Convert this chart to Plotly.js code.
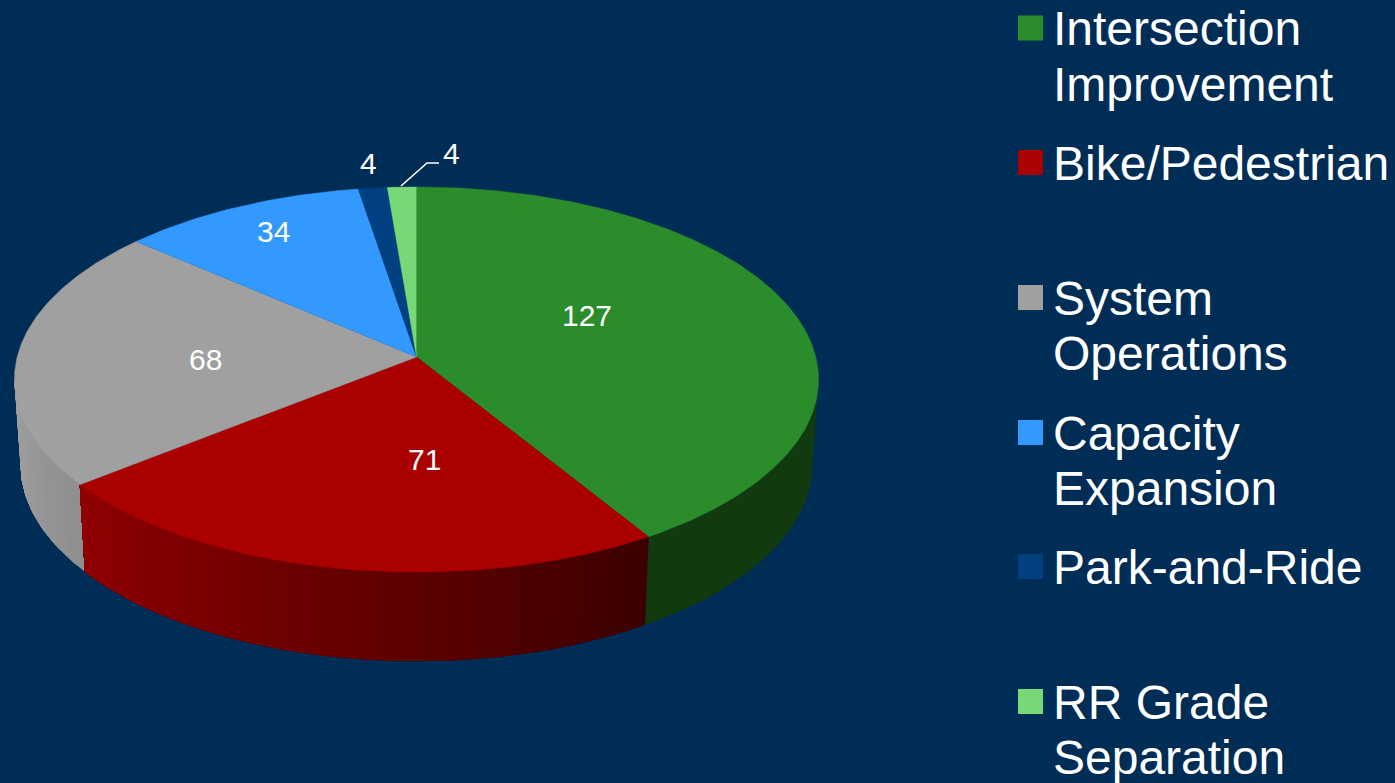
<!DOCTYPE html>
<html>
<head>
<meta charset="utf-8">
<script src="https://cdn.plot.ly/plotly-3.0.1.min.js"></script>
<style>html,body{margin:0;padding:0;background:#002d56;overflow:hidden}#chart{width:1395px;height:783px}</style>
</head>
<body>
<div id="chart"></div>
<script>
const categories = ["Intersection Improvement", "Bike/Pedestrian", "System Operations", "Capacity Expansion", "Park-and-Ride", "RR Grade Separation"];
const values = [127, 71, 68, 34, 4, 4];
const colors = ["#2a8c2a", "#aa0000", "#a0a0a0", "#3399ff", "#004080", "#77d877"];
const legendLines = [["Intersection", "Improvement"], ["Bike/Pedestrian"], ["System", "Operations"], ["Capacity", "Expansion"], ["Park-and-Ride"], ["RR Grade", "Separation"]];
const legendRowY = [28, 162.5, 297.5, 432.5, 566.5, 701.5];
const labelPos = [[586.5, 315.5], [424.5, 459.5], [205.5, 359.5], [273.5, 231.5], [368.5, 163.5], [451.5, 153.5]];
const wallShades = {0: ["#113a0f", "#113a0f"], 1: ["#900000", "#3c0000"], 2: ["#8e8e8e", "#a2a2a2"]};

// Perspective view of the disc
const CX = 416.5, CY = 357, A = 399.3, B = 189.9, K = 0.1169;
function topRim(t) {
  const u = Math.sin(t), v = Math.cos(t), w = 1 + K * v;
  return [CX + A * u / w, CY - B * v / w];
}
function bottomRim(t) {
  const p = topRim(t);
  return [CX + (p[0] - CX) * 0.985, p[1] + 87 + (p[1] - 485) * 0.023];
}
const total = values.reduce((a, b) => a + b, 0);
const edges = [0];
values.forEach(v => edges.push(edges[edges.length - 1] + v / total * 2 * Math.PI));

function poly(points, color, lw) {
  return {
    type: "scatter", mode: "lines", fill: "toself", fillcolor: color,
    x: points.map(p => p[0]), y: points.map(p => p[1]),
    line: {color: color, width: lw}, hoverinfo: "skip", showlegend: false
  };
}
function mix(a, b, f) {
  const p = s => [1, 3, 5].map(i => parseInt(s.substr(i, 2), 16));
  const ca = p(a), cb = p(b);
  return "rgb(" + ca.map((c, i) => Math.round(c + (cb[i] - c) * f)).join(",") + ")";
}
function arc(fn, a, b, n) {
  const out = [];
  for (let i = 0; i <= n; i++) out.push(fn(a + (b - a) * i / n));
  return out;
}

const traces = [];
// Side wall between the silhouette tangents. Each strip paints from its start to the
// wall's end and the next one paints over it, so no seams show between the bands.
const TANGENT = Math.acos(-K);
const visible = [[0, TANGENT, edges[1]], [2, edges[2], 2 * Math.PI - TANGENT], [1, edges[1], edges[2]]];
visible.forEach(([idx, a, b]) => {
  const [c0, c1] = wallShades[idx];
  const strips = c0 === c1 ? 1 : (idx === 1 ? 40 : 14);
  for (let s = 0; s < strips; s++) {
    const s0 = a + (b - a) * s / strips;
    const n = Math.max(4, Math.round((b - s0) * 60));
    // angle runs clockwise, so on the lower rim it moves right-to-left on screen
    const f = idx === 1 ? 1 - (s + 0.5) / strips : (s + 0.5) / strips;
    const pts = arc(topRim, s0, b, n).concat(arc(bottomRim, b, s0, n));
    traces.push(poly(pts, mix(c0, c1, f), 0));
  }
});
// Top face wedges
values.forEach((v, i) => {
  const n = Math.max(8, Math.round(v * 2));
  const pts = [[CX, CY]].concat(arc(topRim, edges[i], edges[i + 1], n));
  traces.push(poly(pts, colors[i], 0.5));
});
// Leader line for the last label
traces.push({
  type: "scatter", mode: "lines", x: [401, 427, 439], y: [186, 163, 163],
  line: {color: "#ffffff", width: 1.6}, hoverinfo: "skip", showlegend: false
});
// Legend swatches
categories.forEach((c, i) => {
  traces.push({
    type: "scatter", mode: "markers", x: [1030.5], y: [legendRowY[i]], name: c,
    marker: {symbol: "square", size: 25, color: colors[i], line: {width: 0}},
    hoverinfo: "skip", showlegend: false
  });
});

const FONT = "Liberation Sans, Arial, sans-serif";
const annotations = [];
values.forEach((v, i) => annotations.push({
  x: labelPos[i][0], y: labelPos[i][1], xref: "x", yref: "y", text: String(v), showarrow: false,
  xanchor: "center", yanchor: "middle", font: {family: FONT, size: 30, color: "#ffffff"}
}));
legendLines.forEach((lines, i) => lines.forEach((line, j) => annotations.push({
  x: 1052, y: legendRowY[i] + 0.5 + j * 55.5, xref: "x", yref: "y", text: line, showarrow: false,
  xanchor: "left", yanchor: "middle", xshift: -1, font: {family: FONT, size: 48, color: "#ffffff"}
})));

Plotly.newPlot("chart", traces, {
  width: 1395, height: 783, margin: {l: 0, r: 0, t: 0, b: 0, pad: 0},
  paper_bgcolor: "#002d56", plot_bgcolor: "#002d56", showlegend: false,
  xaxis: {range: [0, 1395], visible: false, fixedrange: true},
  yaxis: {range: [783, 0], visible: false, fixedrange: true},
  annotations: annotations
}, {displayModeBar: false, staticPlot: true});
</script>
</body>
</html>
